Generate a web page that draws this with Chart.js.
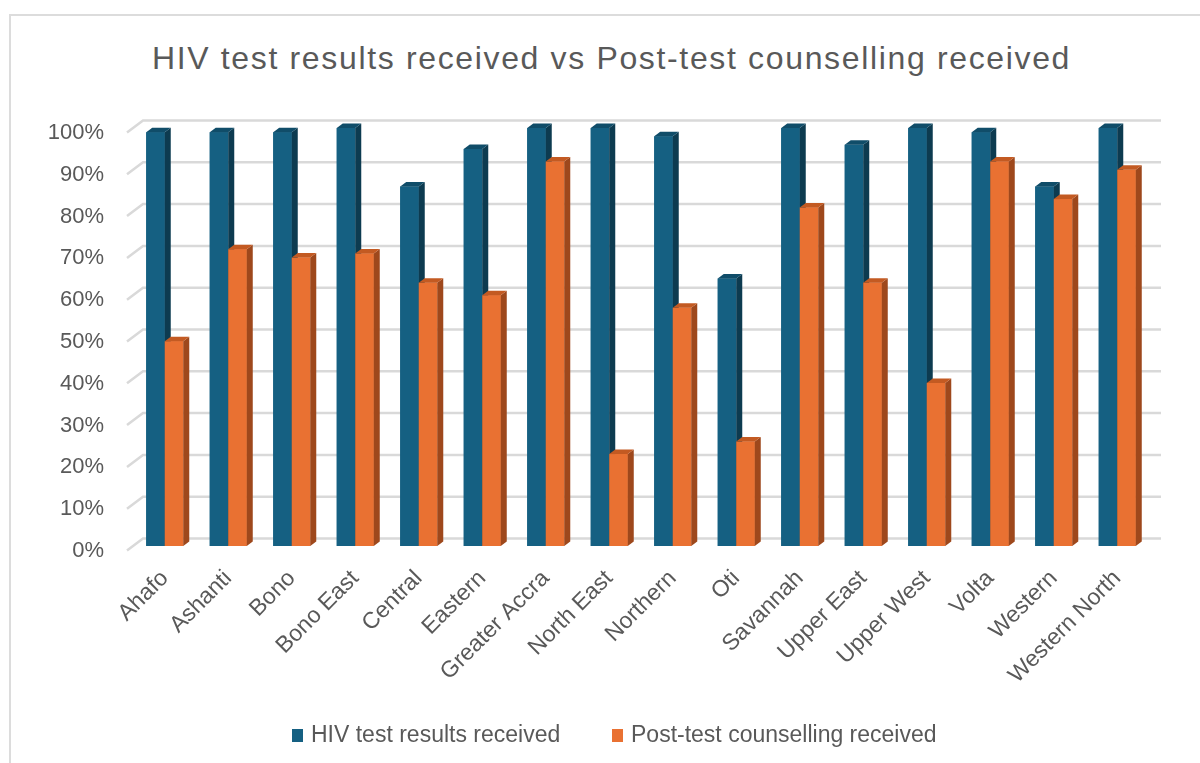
<!DOCTYPE html>
<html>
<head>
<meta charset="utf-8">
<script src="https://cdn.jsdelivr.net/npm/chart.js@4.4.1/dist/chart.umd.min.js"></script>
<style>
  html, body { margin: 0; padding: 0; background: #fff; }
  #wrap { position: relative; width: 1200px; height: 763px; overflow: hidden; }
  #frame { position: absolute; left: 9px; top: 14px; width: 1300px; height: 900px;
           border-left: 2px solid #dcdcdc; border-top: 2px solid #dcdcdc; }
  #title { position: absolute; left: 152px; top: 42px; margin: 0; white-space: nowrap;
           font: 32px/32px "Liberation Sans", Arial, sans-serif; letter-spacing: 1.65px; color: #595959; font-weight: normal; }
  #legend { position: absolute; left: 292px; top: 721px; font: 23px/26px "Liberation Sans", Arial, sans-serif; color: #595959; white-space: nowrap; }
  #legend span.item { position: absolute; top: 0; }
  #legend i { position: absolute; top: 8px; left: 0; width: 11px; height: 13px; }
  #legend b { position: absolute; left: 19px; top: 0; font-weight: normal; }
  canvas { position: absolute; left: 0; top: 0; }
</style>
</head>
<body>
<div id="wrap">
  <div id="frame"></div>
  <h1 id="title">HIV test results received vs Post-test counselling received</h1>
  <canvas id="chart" width="1200" height="763"></canvas>
  <div id="legend"></div>
</div>
<script>
// Data
const regions = ['Ahafo', 'Ashanti', 'Bono', 'Bono East', 'Central', 'Eastern', 'Greater Accra', 'North East',
                 'Northern', 'Oti', 'Savannah', 'Upper East', 'Upper West', 'Volta', 'Western', 'Western North'];
const hivResults = [99, 99, 99, 100, 86, 95, 100, 100, 98, 64, 100, 96, 100, 99, 86, 100];
const counselling = [49, 71, 69, 70, 63, 60, 92, 22, 57, 25, 81, 63, 39, 92, 83, 90];
const seriesNames = ['HIV test results received', 'Post-test counselling received'];
const yTicks = [0, 10, 20, 30, 40, 50, 60, 70, 80, 90, 100];

const frontColors = ['#156082', '#e97132'];
const sideColors = ['#0d3b50', '#9e481c'];
const topColors = ['#104d69', '#c35a22'];
const depth = { dx: 6, dy: 4.5 };

// back-wall gridlines with the little 3D stubs on the left
const wallGrid = {
    id: 'wallGrid',
    beforeDatasetsDraw(chart) {
        const ctx = chart.ctx;
        const y = chart.scales.y;
        const area = chart.chartArea;
        ctx.save();
        ctx.strokeStyle = '#d9d9d9';
        ctx.lineWidth = 2.5;
        yTicks.forEach(v => {
            const py = y.getPixelForValue(v);
            ctx.beginPath();
            ctx.moveTo(area.left - 6, py + 4.5);
            ctx.lineTo(area.left + 10, py - 7.5);
            ctx.lineTo(area.right + 12, py - 7.5);
            ctx.stroke();
        });
        ctx.restore();
    }
};

// front, side and top faces of each bar, series in order so orange sits in front of blue
const bar3d = {
    id: 'bar3d',
    afterDatasetsDraw(chart) {
        const ctx = chart.ctx;
        const { dx, dy } = depth;
        ctx.save();
        chart.data.datasets.forEach((ds, i) => {
            chart.getDatasetMeta(i).data.forEach(bar => {
                const { x, y, base, width } = bar.getProps(['x', 'y', 'base', 'width'], true);
                const l = x - width / 2, r = x + width / 2;
                ctx.fillStyle = frontColors[i];
                ctx.fillRect(l, y, width, base - y);
                ctx.fillStyle = sideColors[i];
                ctx.beginPath();
                ctx.moveTo(r, y);
                ctx.lineTo(r + dx, y - dy);
                ctx.lineTo(r + dx, base - dy);
                ctx.lineTo(r, base);
                ctx.closePath();
                ctx.fill();
                ctx.fillStyle = topColors[i];
                ctx.beginPath();
                ctx.moveTo(l, y);
                ctx.lineTo(l + dx, y - dy);
                ctx.lineTo(r + dx, y - dy);
                ctx.lineTo(r, y);
                ctx.closePath();
                ctx.fill();
            });
        });
        ctx.restore();
    }
};

const ctx = document.getElementById('chart').getContext('2d');
new Chart(ctx, {
    type: 'bar',
    data: {
        labels: regions,
        datasets: [{
            label: seriesNames[0],
            data: hivResults,
            backgroundColor: frontColors[0],
            clip: false
        }, {
            label: seriesNames[1],
            data: counselling,
            backgroundColor: frontColors[1],
            clip: false
        }]
    },
    options: {
        responsive: false,
        animation: false,
        devicePixelRatio: 1,
        categoryPercentage: 0.583,
        barPercentage: 1,
        layout: { padding: { left: 0, top: 128, right: 51, bottom: 67 } },
        plugins: {
            legend: { display: false },
            title: { display: false },
            tooltip: { enabled: false }
        },
        scales: {
            x: {
                grid: { display: false },
                border: { display: false },
                ticks: {
                    autoSkip: false,
                    minRotation: 45,
                    maxRotation: 45,
                    padding: 11,
                    color: '#595959',
                    font: { family: '"Liberation Sans", Arial, sans-serif', size: 23 }
                },
                afterFit(scale) { scale.height = 150; }
            },
            y: {
                min: 0,
                max: 100,
                grid: { display: false },
                border: { display: false },
                ticks: {
                    stepSize: 10,
                    padding: 21,
                    labelOffset: 5,
                    color: '#595959',
                    font: { family: '"Liberation Sans", Arial, sans-serif', size: 22 },
                    callback: v => v + '%'
                },
                afterFit(scale) { scale.width = 133; }
            }
        }
    },
    plugins: [wallGrid, bar3d]
});

// legend
const legend = document.getElementById('legend');
const legendX = [0, 320];
seriesNames.forEach((name, i) => {
    const item = document.createElement('span');
    item.className = 'item';
    item.style.left = legendX[i] + 'px';
    item.innerHTML = '<i style="background:' + frontColors[i] + '"></i><b>' + name + '</b>';
    legend.appendChild(item);
});
</script>
</body>
</html>
